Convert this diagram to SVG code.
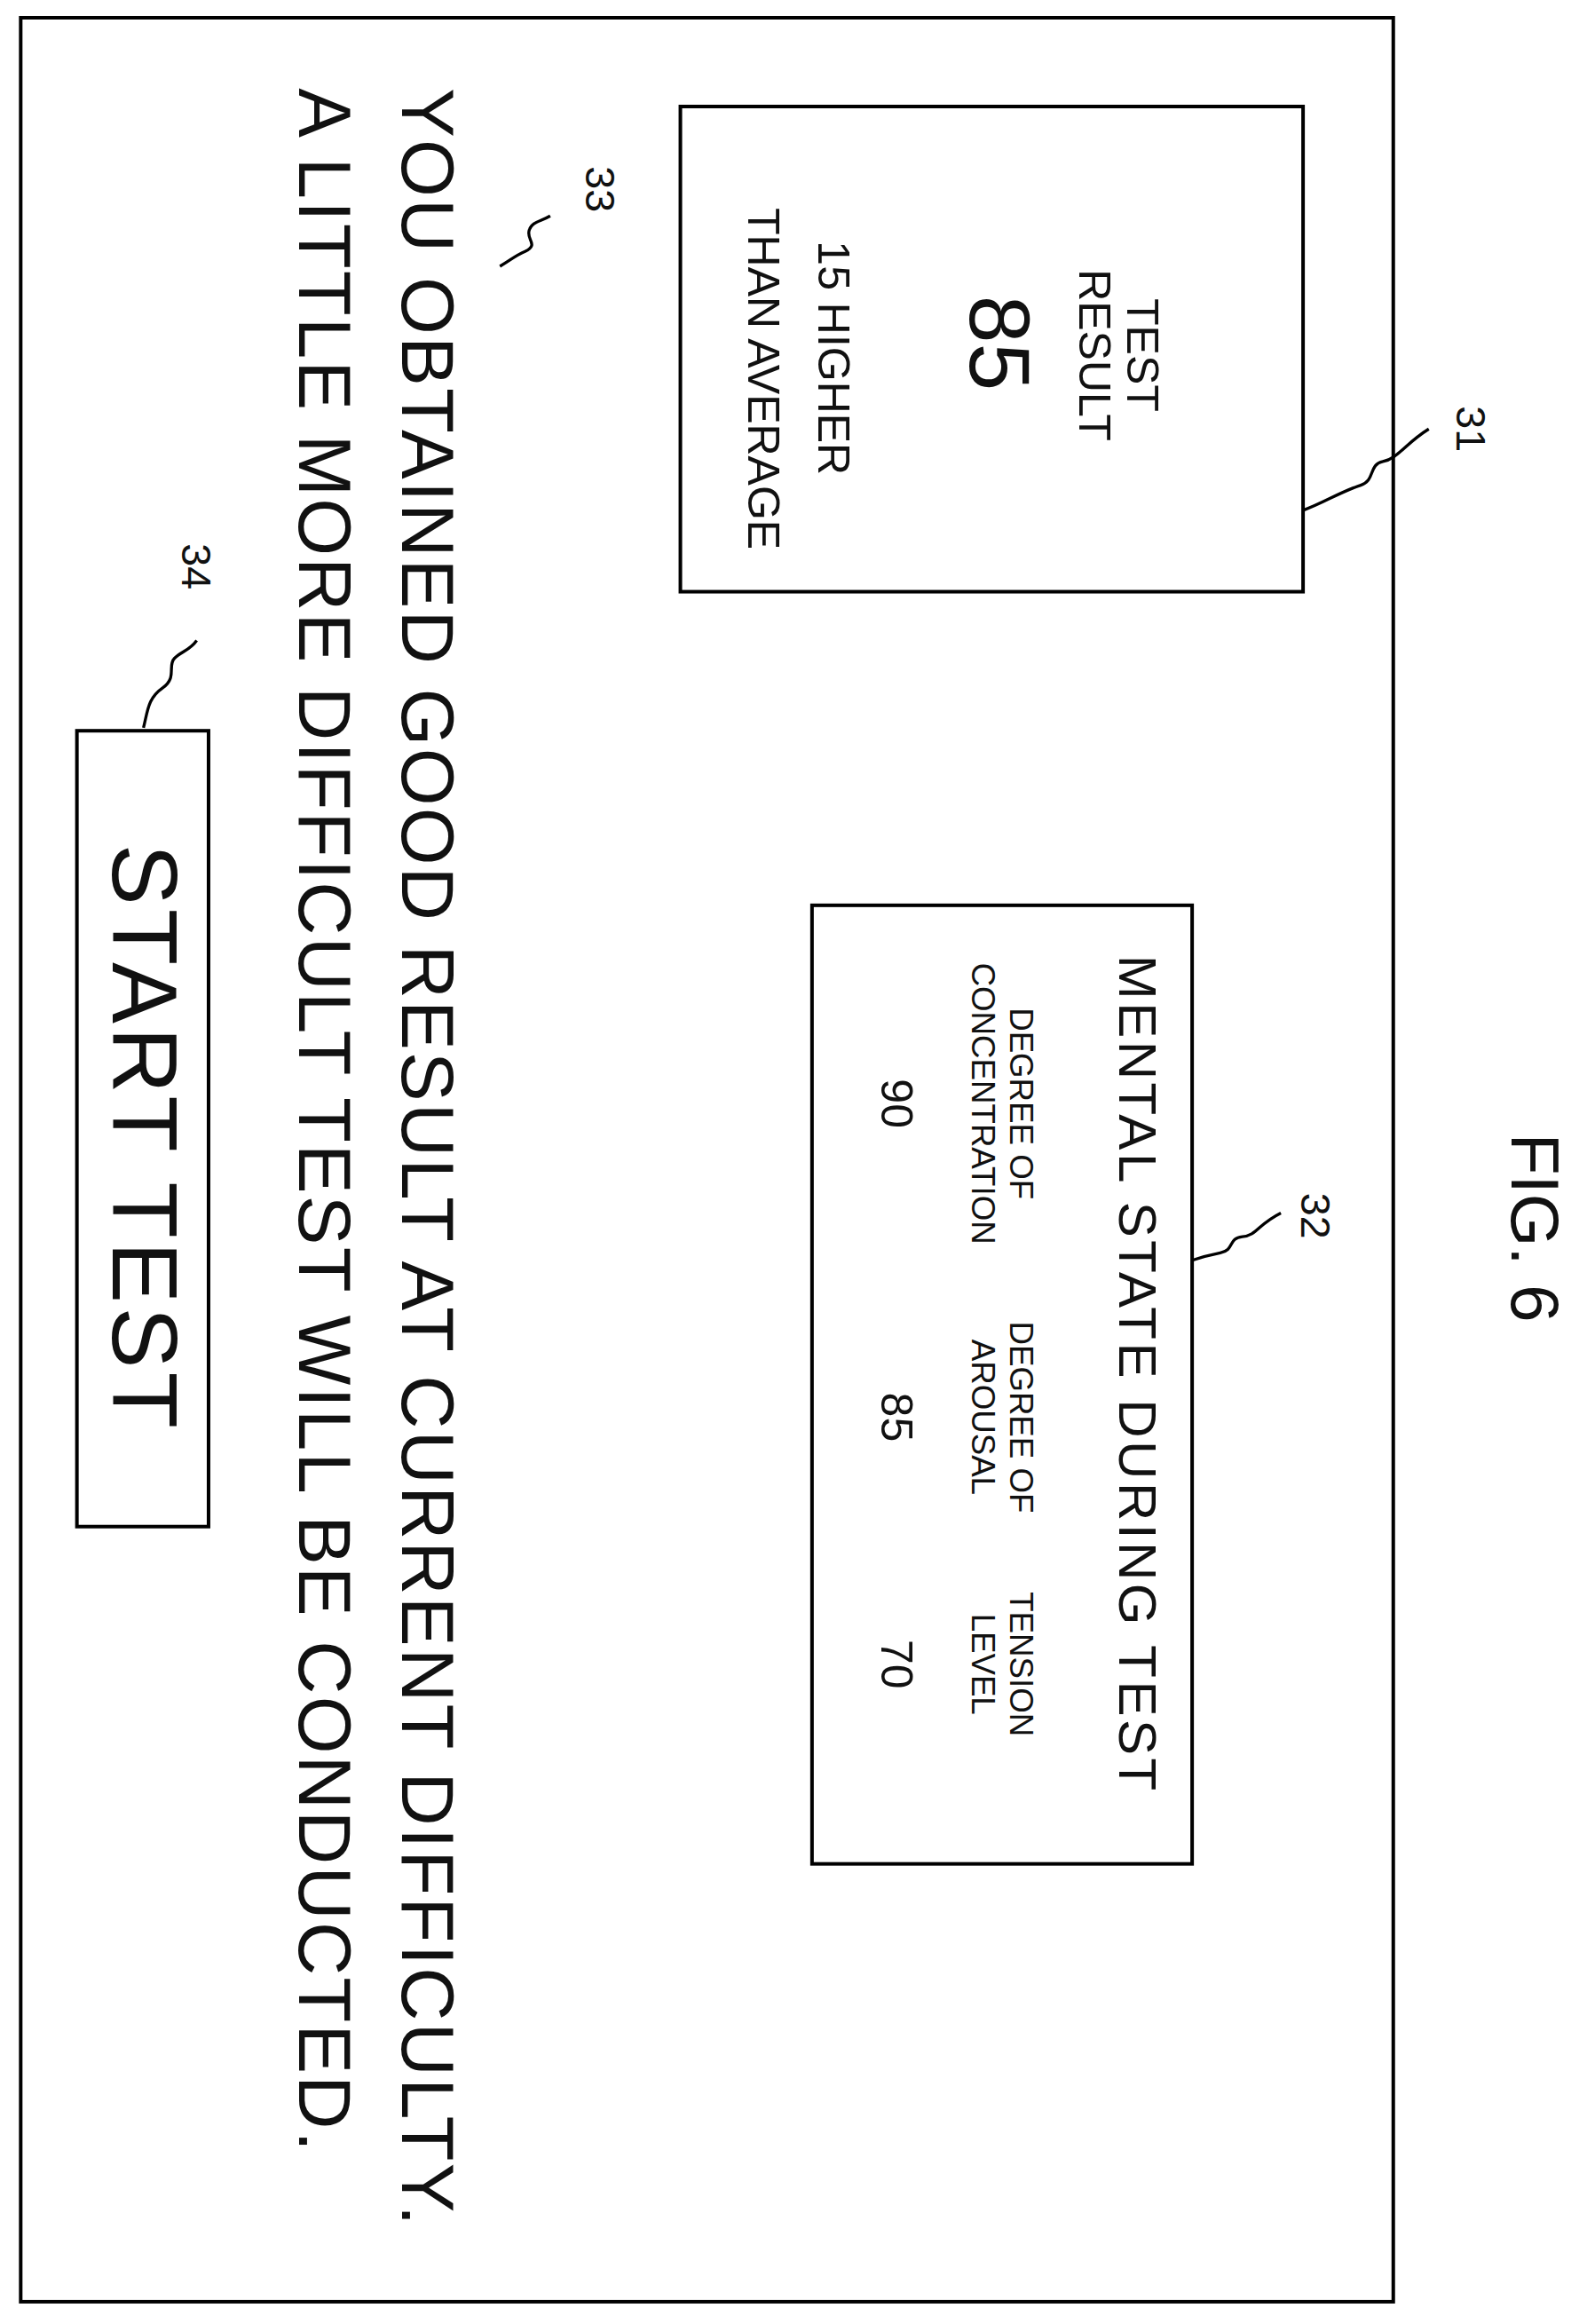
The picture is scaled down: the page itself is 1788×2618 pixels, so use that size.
<svg xmlns="http://www.w3.org/2000/svg" width="1788" height="2618" viewBox="0 0 1788 2618">
<style>
.b{fill:none;stroke:#000;stroke-width:2.4}
.t{font-family:"Liberation Sans",Arial,sans-serif;fill:#111;text-anchor:middle}
</style>
<rect width="1788" height="2618" fill="#fff"/>
<g transform="scale(1.6664)">
<g id="frame"><rect class="b" x="14" y="12" width="928" height="1544"/></g>
<g id="fig"><text class="t" font-size="46" transform="translate(1022,830) rotate(90)">FIG. 6</text></g>
<g id="n31">
<rect class="b" x="460" y="72" width="421" height="328"/>
<text class="t" font-size="30" transform="translate(762,240) rotate(90)">TEST</text>
<text class="t" font-size="30" transform="translate(730,240) rotate(90)">RESULT</text>
<text class="t" font-size="58" transform="translate(656,232) rotate(90)">85</text>
<text class="t" font-size="30" transform="translate(553,242) rotate(90)">15 HIGHER</text>
<text class="t" font-size="30" transform="translate(506,256) rotate(90)">THAN AVERAGE</text>
</g>
<g id="n32">
<rect class="b" x="549" y="612" width="257" height="648"/>
<text class="t" font-size="36" transform="translate(757,928) rotate(90)" textLength="565">MENTAL STATE DURING TEST</text>
<text class="t" font-size="22" transform="translate(683,746) rotate(90)">DEGREE OF</text>
<text class="t" font-size="22" transform="translate(657,746) rotate(90)">CONCENTRATION</text>
<text class="t" font-size="30" transform="translate(596,746) rotate(90)">90</text>
<text class="t" font-size="22" transform="translate(683,958) rotate(90)">DEGREE OF</text>
<text class="t" font-size="22" transform="translate(657,958) rotate(90)">AROUSAL</text>
<text class="t" font-size="30" transform="translate(596,958) rotate(90)">85</text>
<text class="t" font-size="22" transform="translate(683,1125) rotate(90)">TENSION</text>
<text class="t" font-size="22" transform="translate(657,1125) rotate(90)">LEVEL</text>
<text class="t" font-size="30" transform="translate(596,1125) rotate(90)">70</text>
</g>
<g id="n33">
<text class="t" font-size="50" transform="translate(272,782) rotate(90)" textLength="1445">YOU OBTAINED GOOD RESULT AT CURRENT DIFFICULTY.</text>
<text class="t" font-size="50" transform="translate(202,757) rotate(90)" textLength="1395">A LITTLE MORE DIFFICULT TEST WILL BE CONDUCTED.</text>
</g>
<g id="n34">
<rect class="b" x="52" y="494" width="89" height="538"/>
<text class="t" font-size="62" transform="translate(76,768) rotate(90)" textLength="395">START TEST</text>
</g>
<g id="labels">
<text class="t" font-size="28" transform="translate(985,290) rotate(90)">31</text>
<text class="t" font-size="28" transform="translate(880,822) rotate(90)">32</text>
<text class="t" font-size="28" transform="translate(396,128) rotate(90)">33</text>
<text class="t" font-size="28" transform="translate(123,383) rotate(90)">34</text>
</g>
<g id="connectors" fill="none" stroke="#000" stroke-width="2">
<path d="M966,290 C950,300 945,310 935,312 C925,314 930,325 920,328 C905,333 895,340 881,345"/>
<path d="M866,820 C850,828 850,835 840,836 C830,837 835,845 825,847 C815,849 812,850 806,852"/>
<path d="M372,146 C365,150 360,150 358,155 C355,162 365,165 355,170 C348,173 345,176 338,180"/>
<path d="M133,433 C128,440 123,440 118,445 C113,450 120,458 110,465 C100,472 100,480 97,492"/>
</g>
</g>
</svg>
